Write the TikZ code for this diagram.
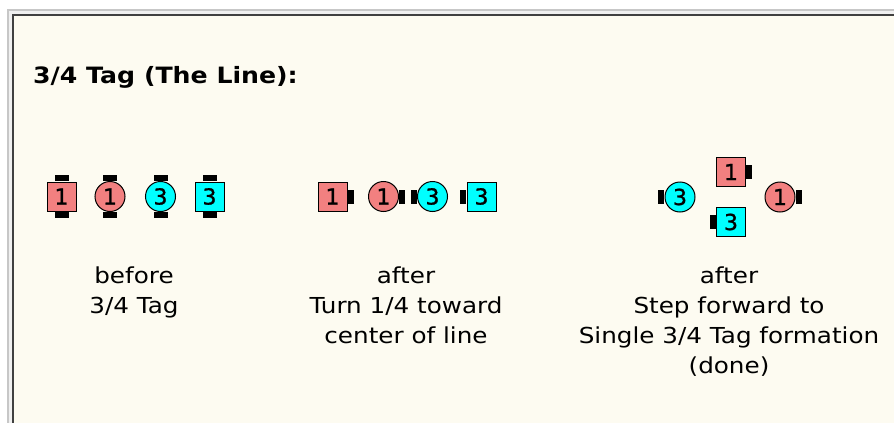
\documentclass[tikz,border=0pt]{standalone}
\usepackage{fontspec}
\setmainfont{DejaVu Sans}[FakeStretch=1.12]
\newfontfamily\dancerfont{DejaVu Sans}[FakeBold=1.2]
\usetikzlibrary{positioning}
\definecolor{pinkdancer}{RGB}{242,128,128}
\definecolor{cyandancer}{RGB}{0,255,255}
\definecolor{paper}{RGB}{253,251,241}
\tikzset{
  boy/.style={draw=black, line width=1pt, fill=#1, minimum size=29pt, inner sep=0pt,
    font=\fontsize{22}{22}\dancerfont},
  girl/.style={circle, draw=black, line width=1pt, fill=#1, minimum size=30pt, inner sep=0pt,
    font=\fontsize{22}{22}\dancerfont},
  noseud/.style={fill=black, minimum width=14pt, minimum height=6pt, inner sep=0pt},
  noselr/.style={fill=black, minimum width=6pt, minimum height=14pt, inner sep=0pt},
  caption/.style={align=center, inner sep=0pt, font=\fontsize{22}{30}\selectfont}
}
\begin{document}
\begin{tikzpicture}[x=1pt,y=-1pt]
% frame
\fill[white] (0,0) rectangle (894,423);
\fill[black!22] (7,9) rectangle (894,423);
\fill[black!6] (9,11) rectangle (894,423);
\fill[black!75] (12,14) rectangle (894,423);
\fill[paper] (14,16) rectangle (894,423);
\useasboundingbox (0,0) rectangle (894,423);
\node[anchor=base west, inner sep=0pt, font=\fontsize{22.5}{22.5}\bfseries] (title) at (33,83) {3/4 Tag (The Line):};
% before
\node[boy=pinkdancer] (b1) at (61.5,196.5) {1};
\node[girl=pinkdancer] (g1) at (110,196.5) {1};
\node[girl=cyandancer] (g3) at (160.5,196.5) {3};
\node[boy=cyandancer] (b3) at (209.5,196.5) {3};
\foreach \d in {b1,g1,g3,b3} {
  \node[noseud, anchor=south] (\d n) at (\d.north) {};
  \node[noseud, anchor=north] (\d s) at (\d.south) {};
}
\node[caption, anchor=base] (cap1) at (134,313) {before\\3/4 Tag};
% after turn
\node[boy=pinkdancer] (tb1) at (332.5,196.5) {1};
\node[girl=pinkdancer] (tg1) at (383.5,196.5) {1};
\node[girl=cyandancer] (tg3) at (432.5,196.5) {3};
\node[boy=cyandancer] (tb3) at (481.5,196.5) {3};
\node[noselr, anchor=west] (tb1n) at (tb1.east) {};
\node[noselr, anchor=west] (tg1n) at (tg1.east) {};
\node[noselr, anchor=east] (tg3n) at (tg3.west) {};
\node[noselr, anchor=east] (tb3n) at (tb3.west) {};
\node[caption, anchor=base] (cap2) at (406,343) {after\\Turn 1/4 toward\\center of line};
% done
\node[boy=pinkdancer] (db1) at (731,172) {1};
\node[girl=cyandancer] (dg3) at (680,197) {3};
\node[girl=pinkdancer] (dg1) at (780,197) {1};
\node[boy=cyandancer] (db3) at (731,222) {3};
\node[noselr, anchor=west] (db1n) at (db1.east) {};
\node[noselr, anchor=west] (dg1n) at (dg1.east) {};
\node[noselr, anchor=east] (dg3n) at (dg3.west) {};
\node[noselr, anchor=east] (db3n) at (db3.west) {};
\node[caption, anchor=base] (cap3) at (729,373) {after\\Step forward to\\Single 3/4 Tag formation\\(done)};
\end{tikzpicture}
\end{document}
